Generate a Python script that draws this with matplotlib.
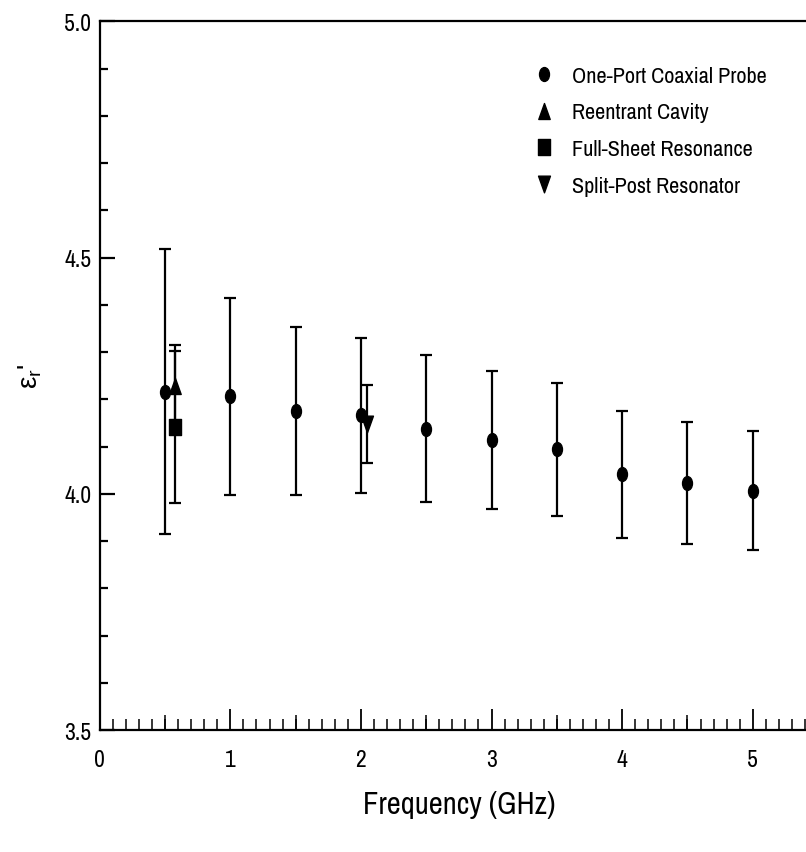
import numpy as np
import matplotlib
matplotlib.use("Agg")
import matplotlib.pyplot as plt
from matplotlib.markers import MarkerStyle
from matplotlib.transforms import Affine2D
from matplotlib.lines import Line2D

plt.rcParams['font.family'] = ['Archivo Narrow', 'Liberation Sans', 'DejaVu Sans']
plt.rcParams['mathtext.fontset'] = 'custom'
plt.rcParams['mathtext.rm'] = 'Liberation Sans'
plt.rcParams['mathtext.it'] = 'Liberation Sans'

# one-port coaxial probe
coax_f = [0.5, 1.0, 1.5, 2.0, 2.5, 3.0, 3.5, 4.0, 4.5, 5.0]
coax_eps = [4.216, 4.206, 4.176, 4.166, 4.138, 4.113, 4.094, 4.041, 4.023, 4.006]
coax_err = [0.302, 0.208, 0.178, 0.164, 0.155, 0.146, 0.140, 0.134, 0.130, 0.126]

# reentrant cavity
cav_f = [0.58]
cav_eps = [4.229]
cav_err = [0.086]

# full-sheet resonance
fsr_f = [0.58]
fsr_eps = [4.141]
fsr_err = [0.161]

# split-post resonator
spr_f = [2.05]
spr_eps = [4.148]
spr_err = [0.083]

labels = ["One-Port Coaxial Probe", "Reentrant Cavity",
          "Full-Sheet Resonance", "Split-Post Resonator"]

# markers in the original are stretched vertically
stretch = Affine2D().scale(1.0, 1.4)
def tall(m):
    ms = MarkerStyle(m)
    return ms.get_path().transformed(ms.get_transform() + stretch)

mk = [(tall("o"), 10), (tall("^"), 11.5), (tall("s"), 12), (tall("v"), 12)]

fig = plt.figure(figsize=(8.06, 8.53), dpi=100)
ax = fig.add_axes([0.1237, 0.1430, 0.8913, 0.8308])

ekw = dict(color="k", ecolor="k", elinewidth=1.6, capsize=4.2, capthick=1.6, ls="none")
ax.errorbar(coax_f, coax_eps, yerr=coax_err, marker=mk[0][0], ms=mk[0][1], **ekw)
ax.errorbar(cav_f, cav_eps, yerr=cav_err, marker=mk[1][0], ms=mk[1][1], **ekw)
ax.errorbar(fsr_f, fsr_eps, yerr=fsr_err, marker=mk[2][0], ms=mk[2][1], **ekw)
ax.errorbar(spr_f, spr_eps, yerr=spr_err, marker=mk[3][0], ms=mk[3][1], **ekw)

ax.set_xlim(0, 5.5)
ax.set_ylim(3.5, 5.0)
ax.set_xticks(np.arange(0, 6, 1))
ax.set_xticks(np.arange(0, 5.55, 0.1), minor=True)
ax.set_yticks([3.5, 4.0, 4.5, 5.0])
ax.set_yticklabels(["3.5", "4.0", "4.5", "5.0"])
ax.set_yticks(np.arange(3.5, 5.01, 0.1), minor=True)

ax.spines["right"].set_visible(False)
for s in ["left", "bottom", "top"]:
    ax.spines[s].set_linewidth(1.6)

ax.tick_params(axis="x", which="major", direction="in", length=15, width=1.3,
               labelsize=17, pad=14)
ax.tick_params(axis="x", which="minor", direction="in", length=8, width=1.1)
ax.tick_params(axis="y", which="major", direction="in", length=11, width=1.6,
               labelsize=17, pad=6)
ax.tick_params(axis="y", which="minor", direction="in", length=6, width=1.6)

# half-GHz ticks are a bit longer
tw = ax.twiny()
tw.set_xlim(ax.get_xlim())
tw.xaxis.set_ticks_position("bottom")
tw.set_xticks(np.arange(0.5, 5.6, 1.0))
tw.xaxis.set_minor_locator(matplotlib.ticker.NullLocator())
tw.tick_params(axis="x", direction="in", length=11, width=1.1,
               labelbottom=False, labeltop=False)
for s in tw.spines.values():
    s.set_visible(False)

ax.set_xlabel("Frequency (GHz)", fontsize=22)
ax.xaxis.set_label_coords(0.5, -0.084)
ax.set_ylabel("ε$_\\mathrm{r}$'", fontsize=20, family=["Liberation Sans", "DejaVu Sans"])
ax.yaxis.set_label_coords(-0.077, 0.5)

handles = [Line2D([], [], color="k", ls="none", marker=m, ms=s) for m, s in mk]
ax.legend(handles, labels, loc="upper left", bbox_to_anchor=(0.59, 0.95),
          frameon=False, fontsize=16, handlelength=1.0, handletextpad=0.8,
          labelspacing=0.75, borderaxespad=0)

fig.savefig("out.png", dpi=100)
